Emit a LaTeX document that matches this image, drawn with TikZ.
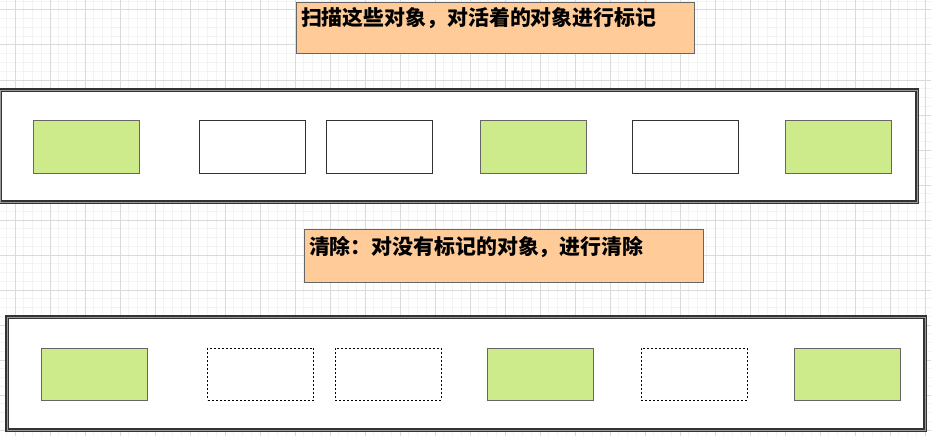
\documentclass[tikz,border=0pt]{standalone}
\usepackage{fontspec}
\newfontfamily\cjkfont{Noto Sans CJK SC}
\usepackage{xcolor}
\definecolor{notefill}{HTML}{FFCC99}
\definecolor{livefill}{HTML}{CDEB8B}
\definecolor{edgegray}{HTML}{666666}
\definecolor{heapedge}{HTML}{333333}
\definecolor{heapgap}{HTML}{9A9A9A}
\definecolor{gridmajor}{HTML}{DADADA}
\definecolor{gridminor}{HTML}{F3F3F3}

\begin{document}
\begin{tikzpicture}[x=1pt,y=-1pt,
   heapbox/.style={rectangle,draw=heapedge,line width=1.2pt,double=heapgap,double distance=1pt,minimum width=917pt,minimum height=112pt,inner sep=0pt,outer sep=0pt},
   notebox/.style={rectangle,draw=edgegray,fill=notefill,line width=1pt,inner xsep=5pt,inner ysep=0pt,align=left,
      font=\cjkfont\bfseries\fontsize{20.9}{24}\selectfont},
   liveobj/.style={rectangle,draw=edgegray,fill=livefill,line width=1pt,minimum width=106pt,minimum height=53pt,inner sep=0pt},
   deadobj/.style={rectangle,draw=heapedge,fill=white,line width=1pt,minimum width=106pt,minimum height=53pt,inner sep=0pt},
   freeobj/.style={rectangle,draw=black,line width=1pt,dash pattern=on 2pt off 2pt,minimum width=106pt,minimum height=52pt,inner sep=0pt}]
  \useasboundingbox[fill=white] (0,0) rectangle (931,436);
  % background grid
  \foreach \gx in {-2.5,6.25,...,935} \draw[gridminor,line width=1pt] (\gx,0) -- (\gx,436);
  \foreach \gy in {1.25,10,...,440} \draw[gridminor,line width=1pt] (0,\gy) -- (931,\gy);
  \foreach \gx in {15,50,...,925} \draw[gridmajor,line width=1pt] (\gx,0) -- (\gx,436);
  \foreach \gy in {10,45,...,430} \draw[gridmajor,line width=1pt] (0,\gy) -- (931,\gy);
  % mark phase
  \node[notebox,text width=388pt,text height=23pt,text depth=28pt] (markNote) at (495,28.5) {扫描这些对象，对活着的对象进行标记};
  \node[heapbox,fill=white] (markHeap) at (458.5,146) {};
  \node[liveobj] (m1) at (86,146.5) {};
  \node[deadobj] (m2) at (252,146.5) {};
  \node[deadobj] (m3) at (379,146.5) {};
  \node[liveobj] (m4) at (533,146.5) {};
  \node[deadobj] (m5) at (685,146.5) {};
  \node[liveobj] (m6) at (838.5,146.5) {};
  % sweep phase
  \node[notebox,text width=389pt,text height=25pt,text depth=28pt] (sweepNote) at (503.5,255.5) {清除：对没有标记的对象，进行清除};
  \node[heapbox,fill=white,minimum width=918pt,minimum height=113pt] (sweepHeap) at (466,373.5) {};
  \node[liveobj,minimum height=52pt] (s1) at (94.5,374) {};
  \node[freeobj] (s2) at (260.5,374) {};
  \node[freeobj] (s3) at (388,374) {};
  \node[liveobj,minimum height=52pt] (s4) at (540.5,374) {};
  \node[freeobj] (s5) at (694,374) {};
  \node[liveobj,minimum height=52pt] (s6) at (847,374) {};
\end{tikzpicture}
\end{document}
